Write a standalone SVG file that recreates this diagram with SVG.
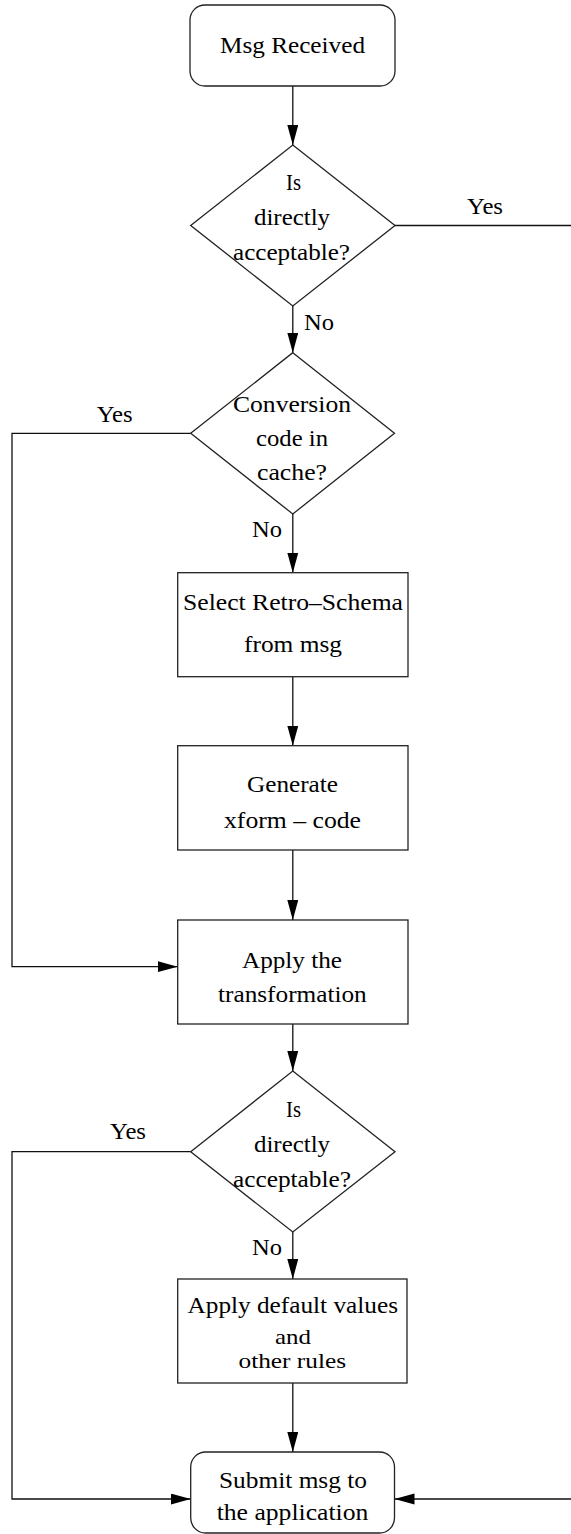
<svg xmlns="http://www.w3.org/2000/svg" width="571" height="1534" viewBox="0 0 571 1534">
  <style>
    .shape { fill: #ffffff; stroke: #222222; stroke-width: 1.3; }
    .wire { fill: none; stroke: #111111; stroke-width: 1.3; }
    .lbl { font-family: "Liberation Serif", "Times New Roman", serif; font-size: 24px; fill: #000000; }
    .sm { font-size: 22px; }
  </style>
  <defs>
    <marker id="arrow" markerUnits="userSpaceOnUse" markerWidth="21" markerHeight="12" refX="20" refY="5.5" orient="auto">
      <path d="M0,0 L20,5.5 L0,11 z" fill="#000000"/>
    </marker>
  </defs>

  <!-- connectors -->
  <g id="connectors">
    <path class="wire" d="M292.8,86 V145" marker-end="url(#arrow)"/>
    <path class="wire" d="M292.8,306 V352.7" marker-end="url(#arrow)"/>
    <path class="wire" d="M292.8,514 V572.7" marker-end="url(#arrow)"/>
    <path class="wire" d="M292.8,676.7 V745.7" marker-end="url(#arrow)"/>
    <path class="wire" d="M292.8,850 V920" marker-end="url(#arrow)"/>
    <path class="wire" d="M292.8,1024 V1071" marker-end="url(#arrow)"/>
    <path class="wire" d="M292.8,1232 V1279" marker-end="url(#arrow)"/>
    <path class="wire" d="M292.8,1383 V1452" marker-end="url(#arrow)"/>
    <path class="wire" d="M190.7,433.3 H12 V966.7 H177.7" marker-end="url(#arrow)"/>
    <path class="wire" d="M190.7,1151.7 H12 V1499 H190.7" marker-end="url(#arrow)"/>
    <path class="wire" d="M395,225.5 H571"/>
    <path class="wire" d="M571,1499 H394.5" marker-end="url(#arrow)"/>
    <text class="lbl" x="467" y="214" textLength="36" lengthAdjust="spacingAndGlyphs">Yes</text>
    <text class="lbl" x="304" y="330" textLength="30" lengthAdjust="spacingAndGlyphs">No</text>
    <text class="lbl" x="96.7" y="421.7" textLength="36" lengthAdjust="spacingAndGlyphs">Yes</text>
    <text class="lbl" x="252" y="537" textLength="30" lengthAdjust="spacingAndGlyphs">No</text>
    <text class="lbl" x="110" y="1139" textLength="36" lengthAdjust="spacingAndGlyphs">Yes</text>
    <text class="lbl" x="252" y="1255" textLength="30" lengthAdjust="spacingAndGlyphs">No</text>
  </g>

  <g id="msg-received">
    <rect class="shape" x="190" y="5" width="205" height="81" rx="15" ry="15"/>
    <text class="lbl" x="220" y="53" textLength="145" lengthAdjust="spacingAndGlyphs">Msg Received</text>
  </g>

  <g id="check-acceptable-1">
    <path class="shape" d="M292.8,145 L395,225.5 L292.8,306 L190.7,225.5 z"/>
    <text class="lbl" x="286" y="190" textLength="15" lengthAdjust="spacingAndGlyphs">Is</text>
    <text class="lbl" x="254" y="225" textLength="76" lengthAdjust="spacingAndGlyphs">directly</text>
    <text class="lbl" x="233" y="260" textLength="117" lengthAdjust="spacingAndGlyphs">acceptable?</text>
  </g>

  <g id="check-cache">
    <path class="shape" d="M292.8,352.7 L394.5,433.3 L292.8,514 L190.7,433.3 z"/>
    <text class="lbl" x="233" y="412" textLength="118" lengthAdjust="spacingAndGlyphs">Conversion</text>
    <text class="lbl" x="256" y="446" textLength="72" lengthAdjust="spacingAndGlyphs">code in</text>
    <text class="lbl" x="257" y="480" textLength="70" lengthAdjust="spacingAndGlyphs">cache?</text>
  </g>

  <g id="select-schema">
    <rect class="shape" x="177.7" y="572.7" width="230.3" height="104"/>
    <text class="lbl" x="183" y="610" textLength="220" lengthAdjust="spacingAndGlyphs">Select Retro–Schema</text>
    <text class="lbl" x="244" y="652" textLength="98" lengthAdjust="spacingAndGlyphs">from msg</text>
  </g>

  <g id="generate-code">
    <rect class="shape" x="177.7" y="745.7" width="230.3" height="104.3"/>
    <text class="lbl" x="247" y="792" textLength="91" lengthAdjust="spacingAndGlyphs">Generate</text>
    <text class="lbl" x="224" y="828" textLength="137" lengthAdjust="spacingAndGlyphs">xform – code</text>
  </g>

  <g id="apply-transformation">
    <rect class="shape" x="177.7" y="920" width="230.3" height="104"/>
    <text class="lbl" x="242" y="968" textLength="100" lengthAdjust="spacingAndGlyphs">Apply the</text>
    <text class="lbl" x="218" y="1001.7" textLength="148.7" lengthAdjust="spacingAndGlyphs">transformation</text>
  </g>

  <g id="check-acceptable-2">
    <path class="shape" d="M292.8,1071 L395,1151.7 L292.8,1232 L190.7,1151.7 z"/>
    <text class="lbl" x="286" y="1117" textLength="15" lengthAdjust="spacingAndGlyphs">Is</text>
    <text class="lbl" x="254" y="1151.5" textLength="76" lengthAdjust="spacingAndGlyphs">directly</text>
    <text class="lbl" x="233" y="1186.5" textLength="118" lengthAdjust="spacingAndGlyphs">acceptable?</text>
  </g>

  <g id="apply-defaults">
    <rect class="shape" x="177.7" y="1279" width="229.3" height="104"/>
    <text class="lbl" x="187.5" y="1313" textLength="210.5" lengthAdjust="spacingAndGlyphs">Apply default values</text>
    <text class="lbl sm" x="275" y="1344" textLength="36" lengthAdjust="spacingAndGlyphs">and</text>
    <text class="lbl sm" x="238.5" y="1368" textLength="107.5" lengthAdjust="spacingAndGlyphs">other rules</text>
  </g>

  <g id="submit-msg">
    <rect class="shape" x="190.7" y="1452" width="203.8" height="81" rx="15" ry="15"/>
    <text class="lbl" x="219" y="1488" textLength="148" lengthAdjust="spacingAndGlyphs">Submit msg to</text>
    <text class="lbl" x="216.7" y="1520" textLength="151.6" lengthAdjust="spacingAndGlyphs">the application</text>
  </g>
</svg>
